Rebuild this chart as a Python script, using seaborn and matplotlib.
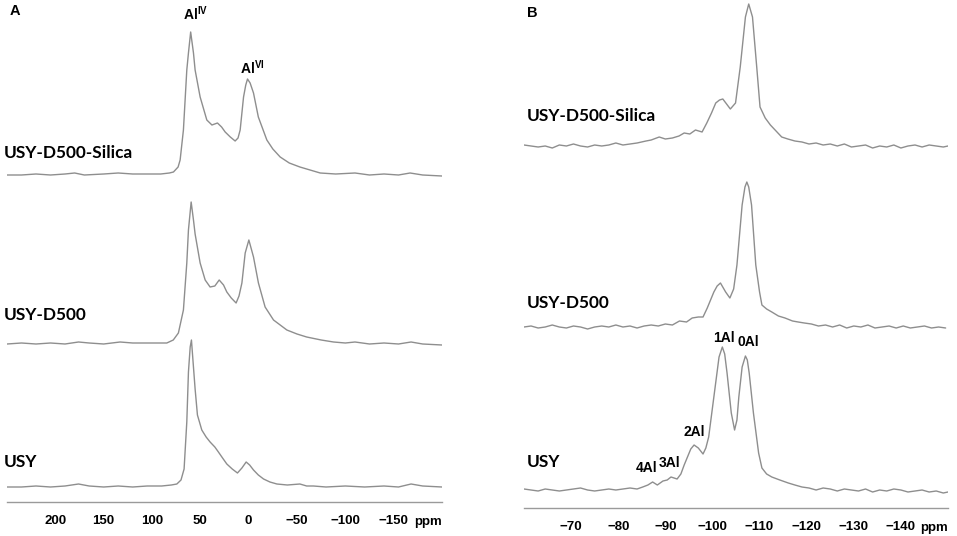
import pandas as pd
import seaborn as sns
import matplotlib.pyplot as plt
from matplotlib.ticker import FixedLocator, MultipleLocator

# ---- panel A: 27Al spectra (ppm, height above own baseline) ----
al_silica_ppm = [250, 235, 220, 205, 190, 180, 170, 150, 135, 120, 105, 91, 82, 77.8, 73, 70.9, 67.5, 64, 62.3, 60,
                 57.1, 55.4, 50.2, 43.3, 38, 32.3, 28, 24.3, 19, 14, 11, 8.8, 5.3, 3, 1.2, -1.5, -5, -10, -18.8, -25,
                 -32.6, -42, -53, -60, -74, -90, -110, -125, -140, -155, -167, -180, -200]
al_silica_int = [0, 0, 1, 0, 1, 2, 0, 1, 2, 1, 1, 1, 2, 3, 8, 15, 45, 105, 122, 143,
                 122, 105, 78, 55, 50, 52, 48, 43, 38, 34, 37, 45, 78, 90, 96, 92, 82, 58, 35, 26,
                 18, 12, 8, 6, 2, 1, 2, 0, 1, 0, 2, 0, -1]

al_d500_ppm = [250, 235, 220, 205, 190, 176, 165, 150, 133, 120, 105, 92, 84.7, 78, 72.7, 67.5, 64, 62.3, 59.5, 57.1,
               55.4, 50.2, 45, 39.9, 35, 30.5, 26, 22.6, 18, 13, 10, 7, 3.6, -0.2, -5, -10.1, -17, -25.7, -39.5, -50,
               -60, -75, -87.8, -100, -110, -125, -140, -155, -168, -180, -200]
al_d500_int = [0, 1, 0, 1, 0, 2, 1, 0, 2, 1, 1, 1, 1, 4, 11, 34, 81, 114, 142, 124,
               110, 81, 64, 57, 58, 64, 59, 52, 46, 41, 48, 61, 91, 104, 87, 61, 37, 24, 14, 10,
               7, 4, 2, 1, 2, 0, 1, 0, 2, 0, -1]

al_usy_ppm = [250, 235, 220, 205, 190, 176, 165, 150, 135, 120, 105, 90, 80, 74.3, 70, 66.8, 64, 62.3, 60.5, 59.2,
              57.5, 55.4, 53, 48.5, 44, 39.9, 35, 31.3, 27, 22.6, 17, 11.6, 7, 2.6, -1, -5, -10, -15.4, -22, -29.2,
              -40, -53, -60, -67, -80, -100, -120, -140, -155, -168, -180, -200]
al_usy_int = [0, 0, 1, 0, 1, 3, 1, 0, 1, 0, 1, 1, 2, 3, 7, 18, 65, 115, 140, 147,
              125, 98, 72, 57, 50, 45, 40, 35, 29, 23, 18, 14, 19, 25, 22, 17, 12, 8, 5, 3,
              2, 3, 1, 1, 0, 1, 0, 1, 0, 3, 1, 0]

# ---- panel B: 29Si spectra ----
si_silica_ppm = [-60, -61.5, -63, -64.5, -66, -67.5, -69, -70.5, -72, -73.5, -75, -76.5, -78, -79.5, -81, -82.5, -84,
                 -85.9, -87, -88.7, -90, -91.5, -92.9, -94, -95.2, -96.4, -97.8, -98.8, -99.8, -100.7, -101.5,
                 -102.2, -103, -103.8, -104.9, -105.9, -107, -107.7, -108.5, -109.4, -110.1, -111.2, -112.3, -113.5,
                 -114.7, -116, -117.5, -119, -120.5, -122, -123.5, -125, -126.5, -128, -129.5, -131, -132.5, -134,
                 -135.5, -137, -138.5, -140, -141.5, -143, -144.5, -146, -147.5, -149, -150]
si_silica_int = [1, 0, -1, 0, -2, 1, 0, 2, 0, -1, 1, 0, 1, 3, 1, 2, 3, 5, 6, 9,
                 7, 8, 10, 13, 12, 16, 14, 23, 33, 43, 46, 47, 42, 37, 43, 79, 129, 142, 129, 79,
                 39, 28, 21, 15, 9, 7, 5, 4, 2, 3, 1, 2, 0, 2, -1, 0, 1, -2, 0, -1,
                 1, -2, 0, 1, -1, 1, 0, -1, 0]

si_d500_ppm = [-60, -61.5, -63, -64.5, -66, -67.5, -69, -70.5, -72, -73.5, -75, -76.5, -78, -79.5, -81, -82.5, -84,
               -85.5, -87, -88.5, -90, -91.5, -93, -94.5, -95.7, -97, -98, -98.9, -99.6, -100.3, -101, -101.7,
               -102.8, -103.7, -104.5, -105.2, -106.3, -106.9, -107.3, -107.7, -108.3, -109.2, -110, -110.5, -111.5,
               -112.6, -114, -115.4, -117, -118.2, -119.5, -121, -122.5, -124, -125.5, -127, -128.5, -130, -131.5,
               -133, -134.5, -136, -137.5, -139, -140.5, -142, -143.5, -145, -146.5, -148, -149.5]
si_d500_int = [0, 1, -1, 0, 2, 0, -1, 1, 0, -2, 0, 1, 0, 2, 0, 1, -1, 1, 2, 1,
               3, 2, 6, 5, 9, 10, 10, 19, 27, 35, 41, 44, 35, 29, 38, 62, 122, 140, 145, 140,
               122, 62, 35, 22, 18, 15, 11, 9, 6, 5, 4, 3, 1, 2, 0, 2, -1, 1, 0, 2,
               -1, 0, 1, -1, 1, -1, 0, 1, -1, 0, -1]

si_usy_ppm = [-60, -61.5, -63, -64.5, -66, -67.5, -69, -70.5, -72, -73.5, -75, -76.5, -78, -79.5, -81, -82.5, -84,
              -85.2, -86.3, -87.3, -88.3, -89.5, -90.4, -91.2, -92.5, -93.3, -94, -94.7, -95.4, -96.1, -97, -98,
              -98.6, -99.2, -100.3, -101.4, -102.1, -102.6, -103.1, -104, -104.7, -105.2, -105.6, -106.3, -107,
              -107.4, -107.8, -108.7, -109.8, -110.5, -111.5, -112.6, -114.3, -116.1, -117.5, -119, -120.5, -122,
              -123.5, -125, -126.5, -128, -129.5, -131, -132.5, -134, -135.5, -137, -138.5, -140, -141.5, -143,
              -144.5, -146, -147.5, -149, -150]
si_usy_int = [1, 0, -1, 1, 0, -1, 0, 1, 2, 0, -1, 0, 1, 0, 1, 2, 1,
              3, 5, 8, 5, 9, 10, 13, 11, 16, 25, 33, 41, 45, 42, 36, 42, 53, 93, 133, 143, 136, 117, 77,
              60, 70, 93, 123, 134, 130, 117, 77, 37, 22, 16, 13, 10, 7, 5, 3, 2, 0, 2, 1,
              -1, 1, 0, -1, 1, -2, 0, -1, 1, 0, -2, -1, 0, -2, -1, -3, -2]

samples = ["USY-D500-Silica", "USY-D500", "USY"]

a_ticks = [200, 150, 100, 50, 0, -50, -100, -150]
a_ticklabels = ["200", "150", "100", "50", "0", "\u221250", "\u2212100", "\u2212150"]
b_ticks = [-70, -80, -90, -100, -110, -120, -130, -140]
b_ticklabels = ["\u221270", "\u221280", "\u221290", "\u2212100", "\u2212110", "\u2212120", "\u2212130", "\u2212140"]

si_peaks = ["1Al", "0Al", "2Al", "3Al", "4Al"]

W, H = 957, 536
LINE = "#8e8e8e"
AXIS = "#9a9a9a"

sns.set_style("white")
plt.rcParams["font.family"] = ["Liberation Sans", "DejaVu Sans"]
plt.rcParams["text.color"] = "black"
plt.rcParams["mathtext.fontset"] = "custom"
plt.rcParams["mathtext.rm"] = "Liberation Sans:bold"
plt.rcParams["mathtext.bf"] = "Liberation Sans:bold"
plt.rcParams["mathtext.it"] = "Liberation Sans:bold"

fig = plt.figure(figsize=(W / 100, H / 100), dpi=100)
ax_a = fig.add_axes([7 / W, 0, 435 / W, 1])
ax_b = fig.add_axes([524 / W, 0, 424 / W, 1])


def long_df(ppms, ints, baselines):
    frames = []
    for name, p, v, base in zip(samples, ppms, ints, baselines):
        d = pd.DataFrame({"ppm": p, "intensity": v})
        d["sample"] = name
        d["y"] = d["intensity"] + (H - base)
        frames.append(d)
    return pd.concat(frames, ignore_index=True)


df_a = long_df([al_silica_ppm, al_d500_ppm, al_usy_ppm],
               [al_silica_int, al_d500_int, al_usy_int], [175, 344, 487])
df_b = long_df([si_silica_ppm, si_d500_ppm, si_usy_ppm],
               [si_silica_int, si_d500_int, si_usy_int], [146, 327, 490])

for ax, df in [(ax_a, df_a), (ax_b, df_b)]:
    sns.lineplot(data=df, x="ppm", y="y", units="sample", estimator=None,
                 color=LINE, linewidth=1.0, ax=ax, legend=False)

ax_a.set_xlim(250, -200)
ax_b.set_xlim(-60, -150)

for ax, axis_y, ticks, labels, minor in [(ax_a, H - 502, a_ticks, a_ticklabels, 10),
                                         (ax_b, H - 508, b_ticks, b_ticklabels, 1)]:
    ax.set_ylim(0, H)
    ax.patch.set_alpha(0)
    for s in ["top", "left", "right"]:
        ax.spines[s].set_visible(False)
    ax.spines["bottom"].set_position(("data", axis_y))
    ax.spines["bottom"].set_color(AXIS)
    ax.spines["bottom"].set_linewidth(1.0)
    ax.set_yticks([])
    ax.xaxis.set_major_locator(FixedLocator(ticks))
    ax.set_xticklabels(labels, fontweight="bold", fontsize=9.5)
    ax.xaxis.set_minor_locator(MultipleLocator(minor))
    ax.tick_params(axis="x", which="major", direction="out", length=5, width=1, color=AXIS,
                   labelcolor="black", pad=4)
    ax.tick_params(axis="x", which="minor", direction="out", length=2.5, width=0.8, color=AXIS)
    ax.set_xlabel("")
    ax.set_ylabel("")
    ax.text(ax.get_xlim()[1], axis_y - 20, "ppm", ha="right", va="center",
            fontsize=9.5, fontweight="bold")

# panel letters and sample names
lab = dict(family=["Lato", "DejaVu Sans"], fontweight="bold", fontsize=12.4, va="center", ha="left")
fig.text(10 / W, 1 - 11 / H, "A", fontsize=10.5, fontweight="bold", va="center")
fig.text(527 / W, 1 - 13 / H, "B", fontsize=10.5, fontweight="bold", va="center")
for name, ya, yb in zip(samples, [153, 315, 462], [116, 303, 462]):
    fig.text(4 / W, 1 - ya / H, name, **lab)
    fig.text(527 / W, 1 - yb / H, name, **lab)

# peak assignments
ax_a.text(54.9, H - 14, r"Al$^{\mathbf{IV}}$", ha="center", va="center", fontsize=10, fontweight="bold")
ax_a.text(-3.9, H - 68, r"Al$^{\mathbf{VI}}$", ha="center", va="center", fontsize=10, fontweight="bold")
for name, x, y in zip(si_peaks, [-102.4, -107.7, -96.1, -90.8, -86.0], [338, 342, 432, 463, 468]):
    ax_b.text(x, H - y, name, ha="center", va="center", fontsize=10, fontweight="bold")

fig.savefig("out.png", dpi=100)
